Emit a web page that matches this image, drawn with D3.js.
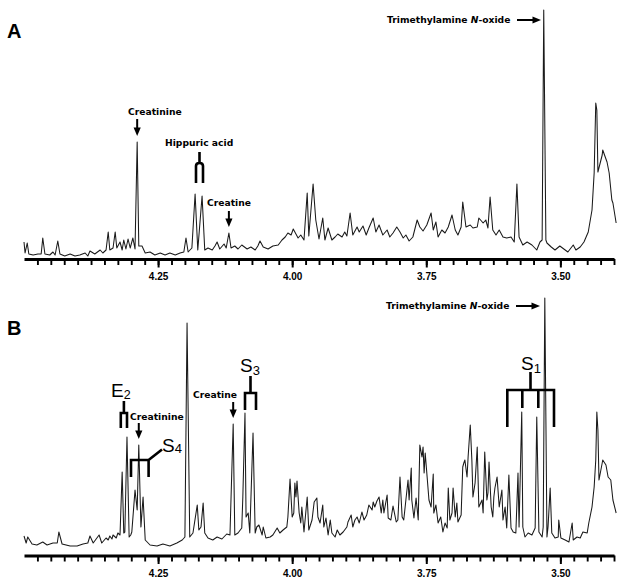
<!DOCTYPE html>
<html>
<head>
<meta charset="utf-8">
<script src="https://cdn.jsdelivr.net/npm/d3@7"></script>
<style>
body { margin: 0; background: #fff; }
svg { display: block; }
.spectrum { fill: none; stroke: #1a1a1a; stroke-width: 1.05; stroke-linejoin: round; }
.note { font-family: "DejaVu Sans", Verdana, sans-serif; font-weight: bold; font-size: 9.2px; fill: #000; }
.sym { font-family: "Liberation Sans", Arial, sans-serif; font-size: 19px; fill: #000; }
.panel-label { font-family: "Liberation Sans", Arial, sans-serif; font-weight: bold; font-size: 20px; }
.bracket { fill: none; stroke: #000; stroke-width: 2.6; }
.arrow { stroke: #000; stroke-width: 2; }
</style>
</head>
<body>
<svg id="chart" width="629" height="584"></svg>
<script>
// chemical shift (ppm), intensity (a.u.)
var spectrumA = [
    [4.500,16],[4.498,5],[4.494,15],[4.491,4],[4.483,3],[4.474,4],[4.468,4],[4.465,20],[4.461,4],[4.452,3],
    [4.446,6],[4.442,3],[4.437,17],[4.433,4],[4.424,2],[4.414,4],[4.405,2],[4.396,3],[4.386,5],[4.381,2],
    [4.377,7],[4.368,4],[4.358,8],[4.353,5],[4.347,8],[4.343,26],[4.340,8],[4.334,10],[4.330,26],[4.327,10],
    [4.321,16],[4.317,8],[4.314,18],[4.310,9],[4.306,19],[4.302,10],[4.297,20],[4.293,9],[4.289,116],[4.286,12],
    [4.280,12],[4.274,5],[4.265,6],[4.256,3],[4.246,5],[4.237,3],[4.228,5],[4.218,3],[4.209,5],[4.202,6],
    [4.198,20],[4.194,6],[4.187,10],[4.181,64],[4.176,8],[4.168,62],[4.163,8],[4.157,10],[4.149,8],[4.144,12],
    [4.140,16],[4.135,9],[4.127,14],[4.123,10],[4.118,25],[4.114,10],[4.107,12],[4.101,9],[4.094,13],[4.084,9],
    [4.077,11],[4.069,8],[4.064,12],[4.060,17],[4.054,11],[4.045,9],[4.036,12],[4.026,13],[4.019,18],[4.013,21],
    [4.008,25],[4.002,23],[3.998,29],[3.993,24],[3.989,20],[3.984,23],[3.978,18],[3.972,65],[3.969,22],[3.961,74],
    [3.956,38],[3.950,19],[3.943,40],[3.939,18],[3.933,30],[3.926,18],[3.920,21],[3.915,24],[3.907,21],[3.902,26],
    [3.898,22],[3.892,45],[3.887,23],[3.879,31],[3.875,26],[3.868,32],[3.862,23],[3.857,30],[3.849,40],[3.844,26],
    [3.838,33],[3.831,23],[3.823,28],[3.818,21],[3.812,25],[3.805,31],[3.799,26],[3.793,20],[3.788,23],[3.782,17],
    [3.775,21],[3.767,38],[3.762,31],[3.756,27],[3.749,33],[3.741,45],[3.737,28],[3.732,36],[3.728,21],[3.721,28],
    [3.715,25],[3.709,31],[3.702,43],[3.696,28],[3.691,23],[3.685,31],[3.682,56],[3.676,31],[3.668,33],[3.663,30],
    [3.655,31],[3.652,40],[3.644,35],[3.639,38],[3.635,30],[3.631,61],[3.626,28],[3.620,23],[3.614,28],[3.607,21],
    [3.600,20],[3.592,21],[3.586,16],[3.581,74],[3.577,21],[3.570,13],[3.562,16],[3.553,13],[3.544,8],[3.538,16],
    [3.534,18],[3.531,248],[3.527,18],[3.525,15],[3.517,11],[3.510,8],[3.501,12],[3.491,8],[3.486,6],[3.476,13],
    [3.471,8],[3.463,11],[3.456,16],[3.448,26],[3.441,48],[3.437,85],[3.434,155],[3.432,148],[3.430,86],[3.422,103],
    [3.421,108],[3.413,96],[3.409,85],[3.404,58],[3.402,55],[3.396,35]
];

var spectrumB = [
    [4.500,19],[4.496,12],[4.493,18],[4.485,11],[4.476,10],[4.465,13],[4.457,10],[4.446,12],[4.438,12],[4.435,23],
    [4.429,11],[4.414,9],[4.401,9],[4.390,11],[4.381,12],[4.377,19],[4.371,12],[4.360,20],[4.355,12],[4.347,17],
    [4.343,15],[4.340,19],[4.336,16],[4.334,20],[4.328,17],[4.325,22],[4.321,20],[4.317,83],[4.314,22],[4.312,23],
    [4.308,118],[4.304,18],[4.301,20],[4.299,23],[4.293,65],[4.289,45],[4.286,110],[4.282,28],[4.278,58],[4.274,15],
    [4.265,10],[4.252,9],[4.241,11],[4.228,9],[4.215,12],[4.205,15],[4.200,18],[4.196,232],[4.191,18],[4.185,22],
    [4.177,50],[4.174,25],[4.170,28],[4.166,52],[4.163,22],[4.157,17],[4.148,15],[4.140,18],[4.131,16],[4.122,21],
    [4.116,20],[4.110,131],[4.107,20],[4.101,22],[4.094,27],[4.092,58],[4.088,142],[4.086,38],[4.082,42],[4.079,22],
    [4.073,122],[4.069,22],[4.066,28],[4.062,30],[4.056,20],[4.054,28],[4.049,17],[4.041,18],[4.036,20],[4.028,27],
    [4.023,22],[4.017,25],[4.010,28],[4.008,38],[4.004,76],[4.000,38],[3.997,42],[3.995,72],[3.993,58],[3.991,74],
    [3.987,42],[3.984,32],[3.982,48],[3.978,23],[3.972,58],[3.969,25],[3.963,35],[3.959,53],[3.954,57],[3.952,38],
    [3.948,32],[3.943,50],[3.941,28],[3.937,37],[3.933,20],[3.929,35],[3.926,22],[3.920,18],[3.916,25],[3.911,20],
    [3.905,23],[3.898,28],[3.896,33],[3.890,40],[3.887,28],[3.883,35],[3.879,38],[3.875,32],[3.870,43],[3.866,35],
    [3.861,40],[3.857,50],[3.851,45],[3.849,53],[3.846,48],[3.842,54],[3.838,58],[3.834,42],[3.831,55],[3.829,42],
    [3.823,60],[3.821,37],[3.816,35],[3.812,49],[3.806,33],[3.803,35],[3.799,78],[3.795,38],[3.792,35],[3.788,55],
    [3.784,75],[3.782,55],[3.778,87],[3.777,55],[3.773,37],[3.769,57],[3.765,35],[3.762,110],[3.758,98],[3.756,108],
    [3.754,82],[3.752,102],[3.749,82],[3.745,55],[3.741,48],[3.737,81],[3.736,42],[3.732,50],[3.728,32],[3.723,38],
    [3.719,23],[3.715,32],[3.711,27],[3.709,67],[3.706,35],[3.702,42],[3.700,67],[3.696,38],[3.693,52],[3.691,33],
    [3.685,40],[3.682,88],[3.680,92],[3.678,95],[3.674,78],[3.672,98],[3.668,130],[3.665,95],[3.663,58],[3.659,72],
    [3.655,108],[3.652,48],[3.646,55],[3.644,42],[3.641,103],[3.637,55],[3.635,62],[3.633,93],[3.629,48],[3.626,38],
    [3.624,58],[3.622,67],[3.618,78],[3.614,48],[3.609,65],[3.607,35],[3.603,48],[3.600,27],[3.596,80],[3.592,27],
    [3.588,23],[3.583,22],[3.579,82],[3.577,28],[3.572,143],[3.570,28],[3.566,18],[3.560,22],[3.553,20],[3.547,27],
    [3.544,138],[3.540,23],[3.534,18],[3.532,28],[3.529,257],[3.525,18],[3.523,28],[3.519,67],[3.516,22],[3.510,17],
    [3.504,18],[3.503,35],[3.499,17],[3.491,15],[3.484,13],[3.478,32],[3.476,15],[3.469,18],[3.463,17],[3.458,23],
    [3.450,22],[3.447,32],[3.441,48],[3.437,68],[3.434,95],[3.432,143],[3.430,125],[3.428,75],[3.422,92],[3.421,95],
    [3.415,90],[3.411,78],[3.406,75],[3.402,55],[3.396,42]
];

var majorTicks = [4.25, 4.00, 3.75, 3.50];
var tickLabels = ["4.25", "4.00", "3.75", "3.50"];
var minorTicks = d3.range(1, 45).map(function(i) { return +(4.5 - i * 0.025).toFixed(3); });

var svg = d3.select("#chart");

var x = d3.scaleLinear()
    .domain([4.5, 3.4])
    .range([24, 614]);

function drawPanel(name, data, base, axisY) {
    var y = d3.scaleLinear()
        .domain([0, 250])
        .range([base, base - 250]);

    var g = svg.append("g").attr("class", "panel panel-" + name);

    g.append("path")
        .datum(data)
        .attr("class", "spectrum")
        .attr("d", d3.line()
            .x(function(d) { return x(d[0]); })
            .y(function(d) { return y(d[1]); }));

    var minor = g.append("g")
        .attr("transform", "translate(0," + axisY + ")")
        .call(d3.axisBottom(x).tickValues(minorTicks).tickSize(6).tickSizeOuter(0).tickFormat(""));
    minor.select(".domain").attr("stroke-width", 3);
    minor.selectAll(".tick line").attr("stroke-width", 1.9);

    var major = g.append("g")
        .attr("transform", "translate(0," + axisY + ")")
        .call(d3.axisBottom(x)
            .tickValues(majorTicks)
            .tickSize(8.5)
            .tickSizeOuter(0)
            .tickPadding(5.5)
            .tickFormat(function(d, i) { return tickLabels[i]; }))
        .attr("font-family", "'Liberation Sans', Arial, sans-serif")
        .attr("font-weight", "bold")
        .attr("font-size", 10);
    major.select(".domain").remove();
    major.selectAll(".tick line").attr("stroke-width", 2);

    g.append("text")
        .attr("class", "panel-label")
        .attr("x", 7)
        .attr("y", base - 220)
        .text(name);

    return {g: g, y: y};
}

function downArrow(g, cx, top, tip) {
    g.append("line")
        .attr("class", "arrow")
        .attr("x1", cx).attr("x2", cx)
        .attr("y1", top).attr("y2", tip - 6);
    g.append("path")
        .attr("d", "M" + (cx - 3.6) + "," + (tip - 8.5) + "L" + (cx + 3.6) + "," + (tip - 8.5) + "L" + cx + "," + tip + "Z");
}

function rightArrow(g, x0, tip, cy) {
    g.append("line")
        .attr("class", "arrow")
        .attr("x1", x0).attr("x2", tip - 6)
        .attr("y1", cy).attr("y2", cy);
    g.append("path")
        .attr("d", "M" + (tip - 8.5) + "," + (cy - 3.4) + "L" + tip + "," + cy + "L" + (tip - 8.5) + "," + (cy + 3.4) + "Z");
}

function note(g, tx, ty, label) {
    return g.append("text").attr("class", "note").attr("x", tx).attr("y", ty).text(label);
}

function tmaoLabel(g, tx, ty) {
    var t = g.append("text").attr("class", "note").attr("x", tx).attr("y", ty);
    t.append("tspan").text("Trimethylamine ");
    t.append("tspan").attr("font-style", "italic").text("N");
    t.append("tspan").text("-oxide");
}

function symbol(g, tx, ty, main, sub, size, subSize, dy) {
    var t = g.append("text").attr("class", "sym").attr("x", tx).attr("y", ty).attr("font-size", size);
    t.append("tspan").text(main);
    t.append("tspan").attr("font-size", subSize).attr("dy", dy).text(sub);
}

function bracket(g, d) {
    g.append("path").attr("class", "bracket").attr("d", d);
}

// panel A
var A = drawPanel("A", spectrumA, 258, 259);
var ga = A.g, ya = A.y;

note(ga, 128, ya(143), "Creatinine");
downArrow(ga, x(4.289), ya(139), ya(122));

note(ga, 165, ya(112), "Hippuric acid");
bracket(ga, "M196," + ya(75) + "V" + ya(92) + "Q196," + ya(95) + " 199.5," + ya(95) +
    "Q203," + ya(95) + " 203," + ya(92) + "V" + ya(75) + "M199.5," + ya(95) + "V" + ya(106));

note(ga, 207, ya(52), "Creatine");
downArrow(ga, x(4.118), ya(47), ya(31));

tmaoLabel(ga, 387, 23);
rightArrow(ga, 517, 541, 20);

// panel B
var B = drawPanel("B", spectrumB, 555, 555.5);
var gb = B.g, yb = B.y;

tmaoLabel(gb, 386, 309);
rightArrow(gb, 516, 540, 306);

symbol(gb, 111, 397, "E", "2", 18, 12.5, 1.5);
bracket(gb, "M120.8,428V413H127V428M123.9,413V401");

note(gb, 130, 420, "Creatinine");
downArrow(gb, x(4.286), 423, 439);

symbol(gb, 162, 452, "S", "4", 19, 13, 0.5);
bracket(gb, "M131,477V460H148.6V477M148.6,460L162,449.5");

note(gb, 193, 398, "Creatine");
downArrow(gb, x(4.110), 402, 418);

symbol(gb, 240, 372, "S", "3", 19, 13, 2.5);
bracket(gb, "M245,410V393H256V410M250.5,393V376");

symbol(gb, 521, 370, "S", "1", 19, 13, 2.5);
bracket(gb, "M507.3,427V390H554V427M522.3,390V408M538.3,390V408M530.5,390V372");
</script>
</body>
</html>
